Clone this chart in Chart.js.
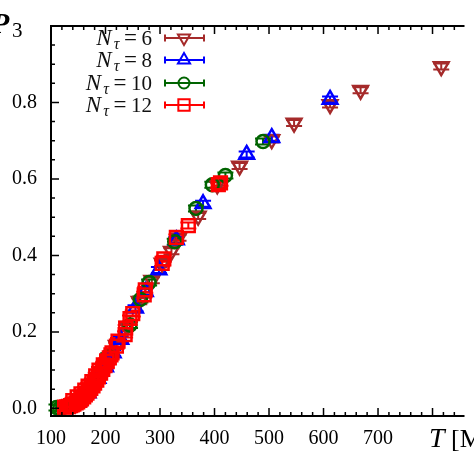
<!DOCTYPE html>
<html>
<head>
<meta charset="utf-8">
<script src="https://cdn.jsdelivr.net/npm/chart.js@4.4.0/dist/chart.umd.min.js"></script>
<style>
html, body { margin: 0; padding: 0; background: #fff; overflow: hidden; }
canvas { display: block; }
</style>
</head>
<body>
<canvas id="chart" width="474" height="474"></canvas>
<script>
// N_tau values shown in the legend
const ntLabels = ['6', '8', '10', '12'];

// temperature [MeV] and P_3 for each N_tau
const nt6T = [145, 158, 165, 176, 185, 202, 220, 240, 262, 285, 304, 321, 334, 370, 405, 446, 505, 546, 612, 668, 816];
const nt6P = [0.012, 0.030, 0.035, 0.060, 0.075, 0.115, 0.165, 0.215, 0.280, 0.335, 0.380, 0.411, 0.446, 0.503, 0.585, 0.634, 0.703, 0.746, 0.795, 0.832, 0.894];

const nt8T = [135, 150, 168, 186, 200, 214, 228, 255, 273, 298, 330, 379, 459, 505, 612];
const nt8P = [0.006, 0.018, 0.040, 0.078, 0.108, 0.145, 0.180, 0.262, 0.305, 0.362, 0.440, 0.535, 0.664, 0.708, 0.808];

const nt10T = [110, 116, 122, 140, 160, 180, 205, 245, 264, 280, 327, 366, 396, 420, 489];
const nt10P = [0.002, 0.000, 0.002, 0.010, 0.028, 0.065, 0.136, 0.218, 0.285, 0.329, 0.436, 0.523, 0.585, 0.609, 0.698];

const nt12T = [125, 129, 132, 136, 139, 142, 146, 149, 153, 156, 160, 163, 166, 170, 173, 177, 180, 184, 187, 191, 195, 199, 203, 207, 212,
               140, 148, 155, 162, 168, 175, 182, 188, 196, 202, 210, 220, 223, 236, 237, 245, 250, 271, 273, 304, 307, 330, 352, 407, 411];
const nt12P = [0.003, 0.004, 0.005, 0.007, 0.009, 0.011, 0.014, 0.017, 0.021, 0.025, 0.030, 0.035, 0.040, 0.046, 0.052, 0.059, 0.066, 0.074, 0.082, 0.092, 0.102, 0.112, 0.122, 0.132, 0.145,
               0.020, 0.030, 0.038, 0.048, 0.058, 0.070, 0.085, 0.100, 0.114, 0.124, 0.140, 0.163, 0.176, 0.193, 0.210, 0.235, 0.248, 0.297, 0.310, 0.379, 0.391, 0.447, 0.478, 0.585, 0.590];

const xTicks = [100, 200, 300, 400, 500, 600, 700];
const yTicks = [0.0, 0.2, 0.4, 0.6, 0.8];

const colors = ['#a52a2a', '#0000ff', '#006400', '#ff0000'];
const serif = '"Liberation Serif", "DejaVu Serif", serif';

function toPoints(xs, ys) {
    return xs.map((x, i) => ({ x: x, y: ys[i] }));
}

const styles = [
    { pointStyle: 'triangle', rotation: 180, radius: 8.5, legendRadius: 7 },
    { pointStyle: 'triangle', rotation: 0, radius: 8.5, legendRadius: 7 },
    { pointStyle: 'circle', rotation: 0, radius: 6.5, legendRadius: 5.5 },
    { pointStyle: 'rect', rotation: 0, radius: 9, legendRadius: 8 }
];

const allData = [toPoints(nt6T, nt6P), toPoints(nt8T, nt8P), toPoints(nt10T, nt10P), toPoints(nt12T, nt12P)];

const datasets = allData.map((d, i) => ({
    label: 'N = ' + ntLabels[i],
    data: d,
    showLine: false,
    order: 4 - i,
    pointStyle: styles[i].pointStyle,
    pointRotation: styles[i].rotation,
    pointRadius: styles[i].radius,
    pointHoverRadius: styles[i].radius,
    pointBorderWidth: 2.5,
    borderColor: colors[i],
    backgroundColor: 'rgba(0,0,0,0)'
}));

// frame, inward ticks, error bars, legend and axis titles
const decorations = {
    id: 'decorations',
    beforeDatasetsDraw(chart) {
        const ctx = chart.ctx;
        ctx.save();
        ctx.lineWidth = 2;
        chart.data.datasets.forEach((ds, i) => {
            const meta = chart.getDatasetMeta(i);
            ctx.strokeStyle = colors[i];
            meta.data.forEach(pt => {
                ctx.beginPath();
                ctx.moveTo(pt.x, pt.y - 3);
                ctx.lineTo(pt.x, pt.y + 3);
                ctx.moveTo(pt.x - 8, pt.y - 3);
                ctx.lineTo(pt.x + 8, pt.y - 3);
                ctx.moveTo(pt.x - 8, pt.y + 3);
                ctx.lineTo(pt.x + 8, pt.y + 3);
                ctx.stroke();
            });
        });
        ctx.restore();
    },
    afterDraw(chart) {
        const ctx = chart.ctx;
        const area = chart.chartArea;
        const xs = chart.scales.x;
        const ys = chart.scales.y;
        ctx.save();
        ctx.strokeStyle = '#000';

        // frame
        ctx.lineWidth = 2;
        ctx.beginPath();
        ctx.moveTo(area.right + 2, area.top);
        ctx.lineTo(area.left, area.top);
        ctx.lineTo(area.left, area.bottom);
        ctx.lineTo(area.right + 2, area.bottom);
        ctx.stroke();

        // x ticks, bottom and top
        ctx.lineWidth = 1.5;
        ctx.beginPath();
        for (let v = 100; v <= 860; v += 20) {
            const px = xs.getPixelForValue(v);
            if (px > area.right) break;
            const len = v % 100 === 0 ? 8 : 4;
            ctx.moveTo(px, area.bottom);
            ctx.lineTo(px, area.bottom - len);
            ctx.moveTo(px, area.top);
            ctx.lineTo(px, area.top + len);
        }
        // y ticks, left
        for (let k = 0; k <= 20; k++) {
            const py = ys.getPixelForValue(k * 0.05);
            const len = k % 4 === 0 ? 8 : 4;
            ctx.moveTo(area.left, py);
            ctx.lineTo(area.left + len, py);
        }
        ctx.stroke();

        // legend
        const rowY = [38, 60, 83, 105];
        ntLabels.forEach((lab, i) => {
            const y = rowY[i];
            ctx.fillStyle = '#111';
            ctx.textBaseline = 'alphabetic';
            ctx.font = '21px ' + serif;
            ctx.textAlign = 'right';
            ctx.fillText(lab, 152, y + 7);
            const wLab = ctx.measureText(lab).width;
            ctx.textAlign = 'center';
            ctx.font = '23px ' + serif;
            ctx.fillText('=', 152 - wLab - 11, y + 7);
            ctx.textAlign = 'right';
            ctx.font = 'italic 16px ' + serif;
            ctx.fillText('\u03c4', 152 - wLab - 22, y + 11);
            ctx.font = 'italic 23px ' + serif;
            ctx.fillText('N', 152 - wLab - 30, y + 7);
            ctx.textAlign = 'left';

            ctx.strokeStyle = colors[i];
            ctx.lineWidth = 2;
            ctx.beginPath();
            ctx.moveTo(165, y);
            ctx.lineTo(204, y);
            ctx.moveTo(165, y - 3.5);
            ctx.lineTo(165, y + 3.5);
            ctx.moveTo(204, y - 3.5);
            ctx.lineTo(204, y + 3.5);
            ctx.stroke();
            ctx.fillStyle = 'rgba(0,0,0,0)';
            Chart.helpers.drawPoint(ctx, {
                pointStyle: styles[i].pointStyle,
                rotation: styles[i].rotation,
                radius: styles[i].legendRadius,
                borderWidth: 2
            }, 184, y);
        });

        // axis titles
        ctx.fillStyle = '#000';
        ctx.font = 'italic bold 30px ' + serif;
        ctx.fillText('P', -9, 33);
        ctx.font = '21px ' + serif;
        ctx.fillText('3', 12, 37);
        ctx.font = 'italic 28px ' + serif;
        ctx.fillText('T', 429, 447);
        const wT = ctx.measureText('T').width;
        ctx.font = '26px ' + serif;
        ctx.fillText(' [MeV]', 429 + wT, 447);
        ctx.restore();
    }
};

const ctx = document.getElementById('chart').getContext('2d');
new Chart(ctx, {
    type: 'scatter',
    data: { datasets: datasets },
    options: {
        responsive: false,
        animation: false,
        devicePixelRatio: 1,
        layout: { padding: { top: 4, left: 0, right: 0, bottom: 0 } },
        plugins: {
            legend: { display: false },
            tooltip: { enabled: false }
        },
        scales: {
            x: {
                type: 'linear',
                min: 100,
                max: 855,
                afterFit: s => { s.height = 58; },
                afterBuildTicks: s => { s.ticks = xTicks.map(v => ({ value: v })); },
                grid: { display: false, drawTicks: false },
                border: { display: false },
                ticks: {
                    padding: 11,
                    color: '#000',
                    font: { family: serif, size: 20 },
                    maxRotation: 0,
                    callback: v => String(v)
                }
            },
            y: {
                type: 'linear',
                min: -0.02,
                max: 1.0,
                afterFit: s => { s.width = 51; },
                afterBuildTicks: s => { s.ticks = yTicks.map(v => ({ value: v })); },
                grid: { display: false, drawTicks: false },
                border: { display: false },
                ticks: {
                    padding: 14,
                    color: '#000',
                    font: { family: serif, size: 20 },
                    callback: v => v.toFixed(1)
                }
            }
        }
    },
    plugins: [decorations]
});
</script>
</body>
</html>
